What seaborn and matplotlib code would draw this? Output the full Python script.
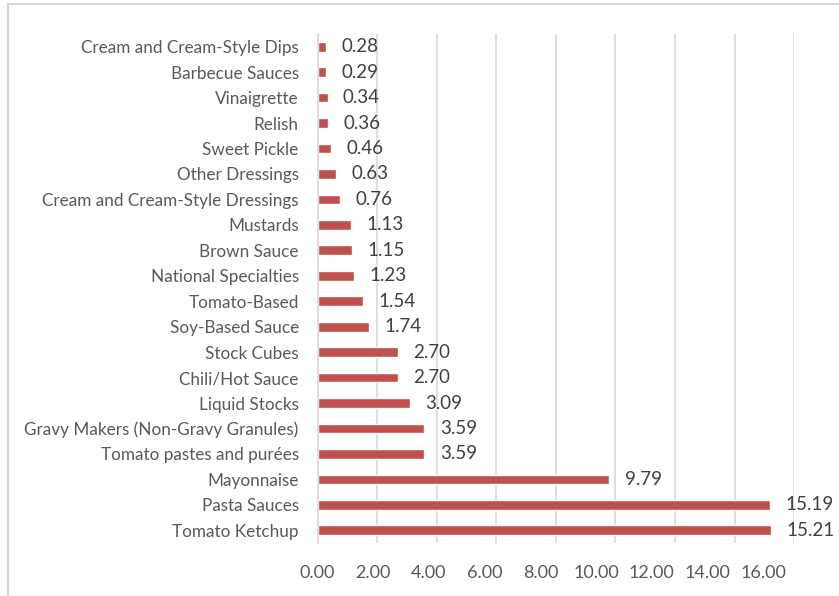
import matplotlib
matplotlib.use("Agg")
import matplotlib.pyplot as plt
import seaborn as sns
import pandas as pd
from matplotlib.patches import Rectangle

# categories listed top to bottom as in the chart
categories = [
    "Cream and Cream-Style Dips", "Barbecue Sauces", "Vinaigrette", "Relish",
    "Sweet Pickle", "Other Dressings", "Cream and Cream-Style Dressings",
    "Mustards", "Brown Sauce", "National Specialties", "Tomato-Based",
    "Soy-Based Sauce", "Stock Cubes", "Chili/Hot Sauce", "Liquid Stocks",
    "Gravy Makers (Non-Gravy Granules)", "Tomato pastes and purées",
    "Mayonnaise", "Pasta Sauces", "Tomato Ketchup",
]
values = [0.28, 0.29, 0.34, 0.36, 0.46, 0.63, 0.76, 1.13, 1.15, 1.23,
          1.54, 1.74, 2.70, 2.70, 3.09, 3.59, 3.59, 9.79, 15.19, 15.21]
x_ticks = [0, 2, 4, 6, 8, 10, 12, 14, 16]

df = pd.DataFrame({"category": categories, "value": values})

sns.set_theme(style="white")
plt.rcParams["font.family"] = ["Lato", "DejaVu Sans"]

fig = plt.figure(figsize=(8.39, 5.96), dpi=100)
ax = fig.add_axes([317.5 / 839, 1 - 543 / 596, (794.3 - 317.5) / 839, 509 / 596])

sns.barplot(data=df, x="value", y="category", order=categories,
            color="#C0504D", saturation=1, width=0.38, ax=ax)

for i, v in enumerate(values):
    ax.annotate(f"{v:.2f}", xy=(v, i), xytext=(11, 0), textcoords="offset points",
                ha="left", va="center", fontsize=13.5, color="#404040")

# gridlines on the major ticks, labels (slightly compressed like the original) on minor ticks
ax.xaxis.remove_overlapping_locs = False
ax.set_xticks(x_ticks)
ax.set_xticklabels([])
ax.set_xticks([t * 0.935 for t in x_ticks], minor=True)
ax.set_xticklabels([f"{t:.2f}" for t in x_ticks], minor=True)
ax.set_xlim(0, 16)
ax.set_ylim(len(categories) - 0.5, -0.5)
ax.set_xlabel("")
ax.set_ylabel("")
ax.tick_params(axis="x", which="both", labelsize=13, labelcolor="#595959",
               length=0, pad=16)
ax.tick_params(axis="y", labelsize=12.3, labelcolor="#595959", length=0, pad=13.5)
ax.xaxis.grid(True, which="major", color="#D9D9D9", linewidth=1.2)
ax.set_axisbelow(True)
for s in ["top", "right", "bottom"]:
    ax.spines[s].set_visible(False)
ax.spines["left"].set_color("#D9D9D9")
ax.spines["left"].set_linewidth(1.2)

# chart border (right and bottom edges fall outside the image)
fig.patches.append(Rectangle((8 / 839, -0.01), 1.0, 1 - 4 / 596 + 0.01,
                             transform=fig.transFigure, fill=False,
                             edgecolor="#D9D9D9", linewidth=1.5))

fig.savefig("out.png", dpi=100)
